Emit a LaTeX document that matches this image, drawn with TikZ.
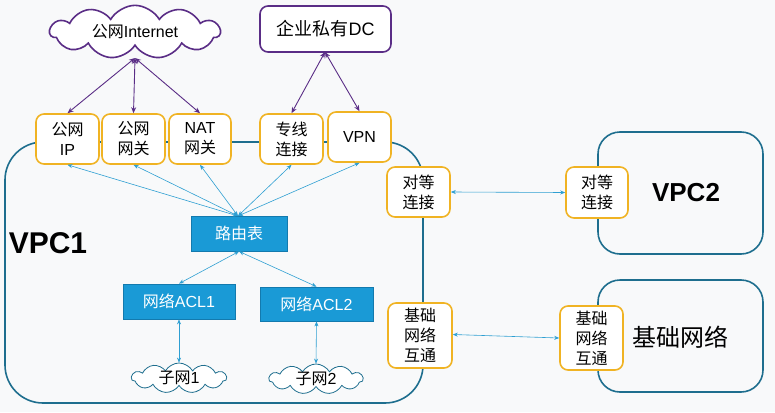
\documentclass[tikz,border=0pt]{standalone}
\usepackage{fontspec}
\setmainfont{Liberation Sans}
\newfontfamily\cjk{Noto Sans CJK SC}
\newcommand\zh[1]{{\cjk #1}}
\usetikzlibrary{shapes.symbols,arrows.meta}
\definecolor{ybord}{HTML}{F0B323}
\definecolor{vpcb}{HTML}{1E6E8E}
\definecolor{purp}{HTML}{5A2D86}
\definecolor{bfill}{HTML}{1A9AD6}
\definecolor{bbord}{HTML}{137AAE}
\definecolor{barrow}{HTML}{2E9FD2}
\definecolor{bg}{HTML}{F8F9FA}
\begin{document}
\begin{tikzpicture}[x=1pt,y=-1pt,
  ybox/.style={draw=ybord,line width=1.6pt,rounded corners=8pt,fill=white,inner sep=0pt,align=center,font=\fontsize{16}{20}\selectfont,minimum width=63pt,minimum height=50pt},
  bbox/.style={draw=bbord,line width=0.8pt,fill=bfill,text=white,inner sep=0pt,font=\fontsize{16}{18}\selectfont,minimum height=35pt},
  netbox/.style={draw=vpcb,line width=1.6pt,rounded corners=22pt},
  pcloud/.style={cloud,cloud puffs=11,cloud puff arc=120,aspect=3.5,inner sep=0pt,font=\fontsize{16}{18}\selectfont},
  parr/.style={draw=purp,line width=0.9pt,{Stealth[length=6pt,width=5pt]}-{Stealth[length=6pt,width=5pt]}},
  barr/.style={draw=barrow,line width=0.6pt,{Stealth[length=5pt,width=4pt]}-{Stealth[length=5pt,width=4pt]}}
]
\fill[bg] (0,0) rectangle (775,412);
\useasboundingbox (0,0) rectangle (775,412);
% VPC1 outline
\draw[netbox,rounded corners=38pt] (5,142) rectangle (423,403);
% VPC2 and basic network
\draw[netbox] (598,132) rectangle (763,254);
\draw[netbox] (598,280) rectangle (763,392);
\node[font=\bfseries\fontsize{30}{32}\selectfont] (vpc1) at (48,243) {VPC1};
\node[font=\bfseries\fontsize{26}{28}\selectfont] (vpc2) at (686,193) {VPC2};
\node[font=\cjk\fontsize{24}{26}\selectfont] (basel) at (680,337) {基础网络};
% top
\node[pcloud,draw=purp,line width=1.6pt,fill=white,minimum width=170pt,minimum height=50pt] (inet) at (135,32) {\zh{公网}Internet};
\coordinate (inetb) at (135,58);
\node[draw=purp,line width=1.6pt,rounded corners=8pt,fill=white,minimum width=131pt,minimum height=46pt,inner sep=0pt,font=\fontsize{18}{20}\selectfont] (dc) at (325.5,29) {\zh{企业私有}DC};
\coordinate (dcb) at (325,52);
% yellow row
\node[ybox] (ip) at (67.5,139) {\zh{公网}\\IP};
\node[ybox] (gw) at (133.5,139) {\zh{公网}\\\zh{网关}};
\node[ybox,minimum width=62pt] (nat) at (200,139) {NAT\\\zh{网关}};
\node[ybox] (zx) at (291.5,139) {\zh{专线}\\\zh{连接}};
\node[ybox] (vpn) at (359.5,137) {VPN};
% side boxes
\node[ybox] (peer1) at (418.5,192) {\zh{对等}\\\zh{连接}};
\node[ybox,minimum width=64pt,minimum height=65pt] (base1) at (420,335.5) {\zh{基础}\\\zh{网络}\\\zh{互通}};
\node[ybox,minimum width=62pt,minimum height=51pt] (peer2) at (597,192.5) {\zh{对等}\\\zh{连接}};
\node[ybox,minimum height=64pt] (base2) at (591.5,338) {\zh{基础}\\\zh{网络}\\\zh{互通}};
% blue boxes
\node[bbox,minimum width=96pt] (rt) at (239,233.5) {\zh{路由表}};
\node[bbox,minimum width=112pt] (acl1) at (179,301.5) {\zh{网络}ACL1};
\node[bbox,minimum width=113pt,minimum height=34pt] (acl2) at (316.5,304) {\zh{网络}ACL2};
\node[pcloud,draw=vpcb,line width=0.8pt,fill=white,minimum width=95pt,minimum height=30pt,aspect=3.2] (sub1) at (179,378) {\zh{子网}1};
\node[pcloud,draw=vpcb,line width=0.8pt,fill=white,minimum width=94pt,minimum height=30pt,aspect=3.2] (sub2) at (316,379) {\zh{子网}2};
\coordinate (rtt) at (238,216);
% purple arrows
\draw[parr] (inetb) -- (ip.north);
\draw[parr] (inetb) -- (gw.north);
\draw[parr] (inetb) -- (nat.north);
\draw[parr] (dcb) -- (zx.north);
\draw[parr] (dcb) -- (vpn.north);
% blue arrows
\draw[barr] (rtt) -- (ip.south);
\draw[barr] (rtt) -- (gw.south);
\draw[barr] (rtt) -- (nat.south);
\draw[barr] (rtt) -- (zx.south);
\draw[barr] (rtt) -- (vpn.south);
\draw[barr] (rt.south) -- (acl1.north);
\draw[barr] (rt.south) -- (acl2.north);
\draw[barr] (acl1.south) -- (sub1.north);
\draw[barr] (acl2.south) -- (sub2.north);
\draw[barr] (peer1.east) -- (peer2.west);
\draw[barr] ([yshift=1pt]base1.east) -- (base2.west);
\end{tikzpicture}
\end{document}
